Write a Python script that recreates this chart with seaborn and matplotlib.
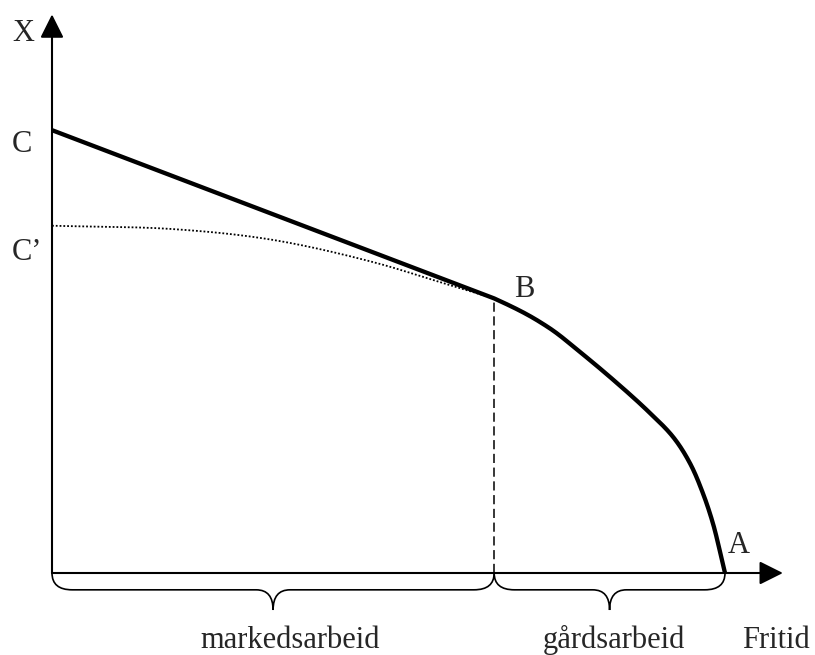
import numpy as np
import matplotlib
matplotlib.use("Agg")
import matplotlib.pyplot as plt
from matplotlib.path import Path
from matplotlib.patches import PathPatch
import seaborn as sns

# Production frontier: straight market-work segment C -> B, then the
# farm-work curve B -> A (leisure on the horizontal axis, X on the vertical).
frontier_x = [0.0, 65.7, 73.6, 78.5, 83.4, 88.4, 92.3, 94.8, 96.7, 98.2, 99.3, 100.0]
frontier_y = [65.8, 40.8, 36.6, 32.8, 28.7, 24.2, 20.2, 16.3, 11.9, 7.4, 3.0, 0.0]

# Farm-only frontier continued back to the vertical axis (C')
inner_x = [0.0, 18.0, 32.8, 47.7, 57.7, 65.7]
inner_y = [51.6, 51.1, 49.5, 46.2, 43.2, 40.8]

point_labels = ["C", "C\u2019", "B", "A"]
brace_labels = ["markedsarbeid", "g\u00e5rdsarbeid"]
y_axis_label = "X"
x_axis_label = "Fritid"

FONT = 22


def smooth_path(xs, ys, n=40, skip_first=False):
    """Centripetal Catmull-Rom path through the given points (drawing only)."""
    p = np.column_stack([xs, ys]).astype(float)
    p = np.vstack([2 * p[0] - p[1], p, 2 * p[-1] - p[-2]])
    segs = []
    start = 2 if skip_first else 1
    for i in range(start, len(p) - 2):
        p0, p1, p2, p3 = p[i - 1], p[i], p[i + 1], p[i + 2]
        t0 = 0.0
        t1 = t0 + np.linalg.norm(p1 - p0) ** 0.5
        t2 = t1 + np.linalg.norm(p2 - p1) ** 0.5
        t3 = t2 + np.linalg.norm(p3 - p2) ** 0.5
        t = np.linspace(t1, t2, n, endpoint=False)[:, None]
        a1 = (t1 - t) / (t1 - t0) * p0 + (t - t0) / (t1 - t0) * p1
        a2 = (t2 - t) / (t2 - t1) * p1 + (t - t1) / (t2 - t1) * p2
        a3 = (t3 - t) / (t3 - t2) * p2 + (t - t2) / (t3 - t2) * p3
        b1 = (t2 - t) / (t2 - t0) * a1 + (t - t0) / (t2 - t0) * a2
        b2 = (t3 - t) / (t3 - t1) * a2 + (t - t1) / (t3 - t1) * a3
        c = (t2 - t) / (t2 - t1) * b1 + (t - t1) / (t2 - t1) * b2
        segs.append(c)
    segs.append(p[-2][None, :])
    out = np.vstack(segs)
    return out[:, 0], out[:, 1]


def brace(ax, x0, x1, depth=2.5, tip=5.5, r=3.0, half=2.5, lw=1.2):
    xm = 0.5 * (x0 + x1)
    verts = [(x0, 0), (x0, -depth), (x0 + r, -depth),
             (xm - half, -depth),
             (xm, -depth), (xm, -tip),
             (xm, -depth), (xm + half, -depth),
             (x1 - r, -depth),
             (x1, -depth), (x1, 0)]
    codes = [Path.MOVETO, Path.CURVE3, Path.CURVE3,
             Path.LINETO,
             Path.CURVE3, Path.CURVE3,
             Path.CURVE3, Path.CURVE3,
             Path.LINETO,
             Path.CURVE3, Path.CURVE3]
    ax.add_patch(PathPatch(Path(verts, codes), facecolor="none",
                           edgecolor="black", lw=lw, capstyle="round"))
    return xm


sns.set_style("white")
plt.rcParams["font.family"] = ["Liberation Serif", "DejaVu Serif"]

fig = plt.figure(figsize=(8.15, 6.55), dpi=100)
ax = fig.add_axes([0, 0, 1, 1])
scale = 6.73  # pixels per unit
ax.set_xlim(-52 / scale, (815 - 52) / scale)
ax.set_ylim(-(655 - 573) / scale, 573 / scale)
ax.set_axis_off()

# Axes with arrowheads
arrow = dict(arrowstyle="-|>,head_length=0.4,head_width=0.2", mutation_scale=36,
             lw=1.5, color="black", shrinkA=0, shrinkB=0)
ax.annotate("", xy=(0, 83.0), xytext=(0, 0), arrowprops=arrow)
ax.annotate("", xy=(108.6, 0), xytext=(0, 0), arrowprops=arrow)

bx, by = frontier_x[1], frontier_y[1]

# Dotted farm-only frontier C' -> B
ix, iy = smooth_path(inner_x, inner_y)
sns.lineplot(x=ix, y=iy, sort=False, estimator=None, color="black",
             linewidth=1.3, linestyle=(0, (1.0, 1.1)), ax=ax)

# Dashed drop line from B to the leisure axis
sns.lineplot(x=[bx, bx], y=[0, by], sort=False, estimator=None, color="black",
             linewidth=1.1, linestyle=(0, (6, 3)), ax=ax)

# Thick frontier C -> B -> A
cx, cy = smooth_path(frontier_x, frontier_y, skip_first=True)
fx = np.concatenate([[frontier_x[0]], cx])
fy = np.concatenate([[frontier_y[0]], cy])
sns.lineplot(x=fx, y=fy, sort=False, estimator=None, color="black",
             linewidth=3.1, ax=ax, solid_capstyle="butt")

# Braces under the leisure axis
m1 = brace(ax, frontier_x[0], bx)
m2 = brace(ax, bx, frontier_x[-1])

# Text labels
ax.text(-5.94, 79.05, y_axis_label, fontsize=FONT, ha="left", va="baseline")
ax.text(-5.94, frontier_y[0] - 3.25, point_labels[0], fontsize=FONT,
        ha="left", va="baseline")
ax.text(-5.94, inner_y[0] - 5.1, point_labels[1], fontsize=FONT,
        ha="left", va="baseline")
ax.text(bx + 3.0, by + 0.2, point_labels[2], fontsize=FONT,
        ha="left", va="baseline")
ax.text(frontier_x[-1] + 0.4, 2.95, point_labels[3], fontsize=FONT,
        ha="left", va="baseline")

ax.text(m1 + 2.6, -11.1, brace_labels[0], fontsize=FONT, ha="center", va="baseline")
ax.text(m2 + 0.6, -11.1, brace_labels[1], fontsize=FONT, ha="center", va="baseline")
ax.text(102.6, -11.1, x_axis_label, fontsize=FONT, ha="left", va="baseline")

fig.savefig("out.png", dpi=100)
